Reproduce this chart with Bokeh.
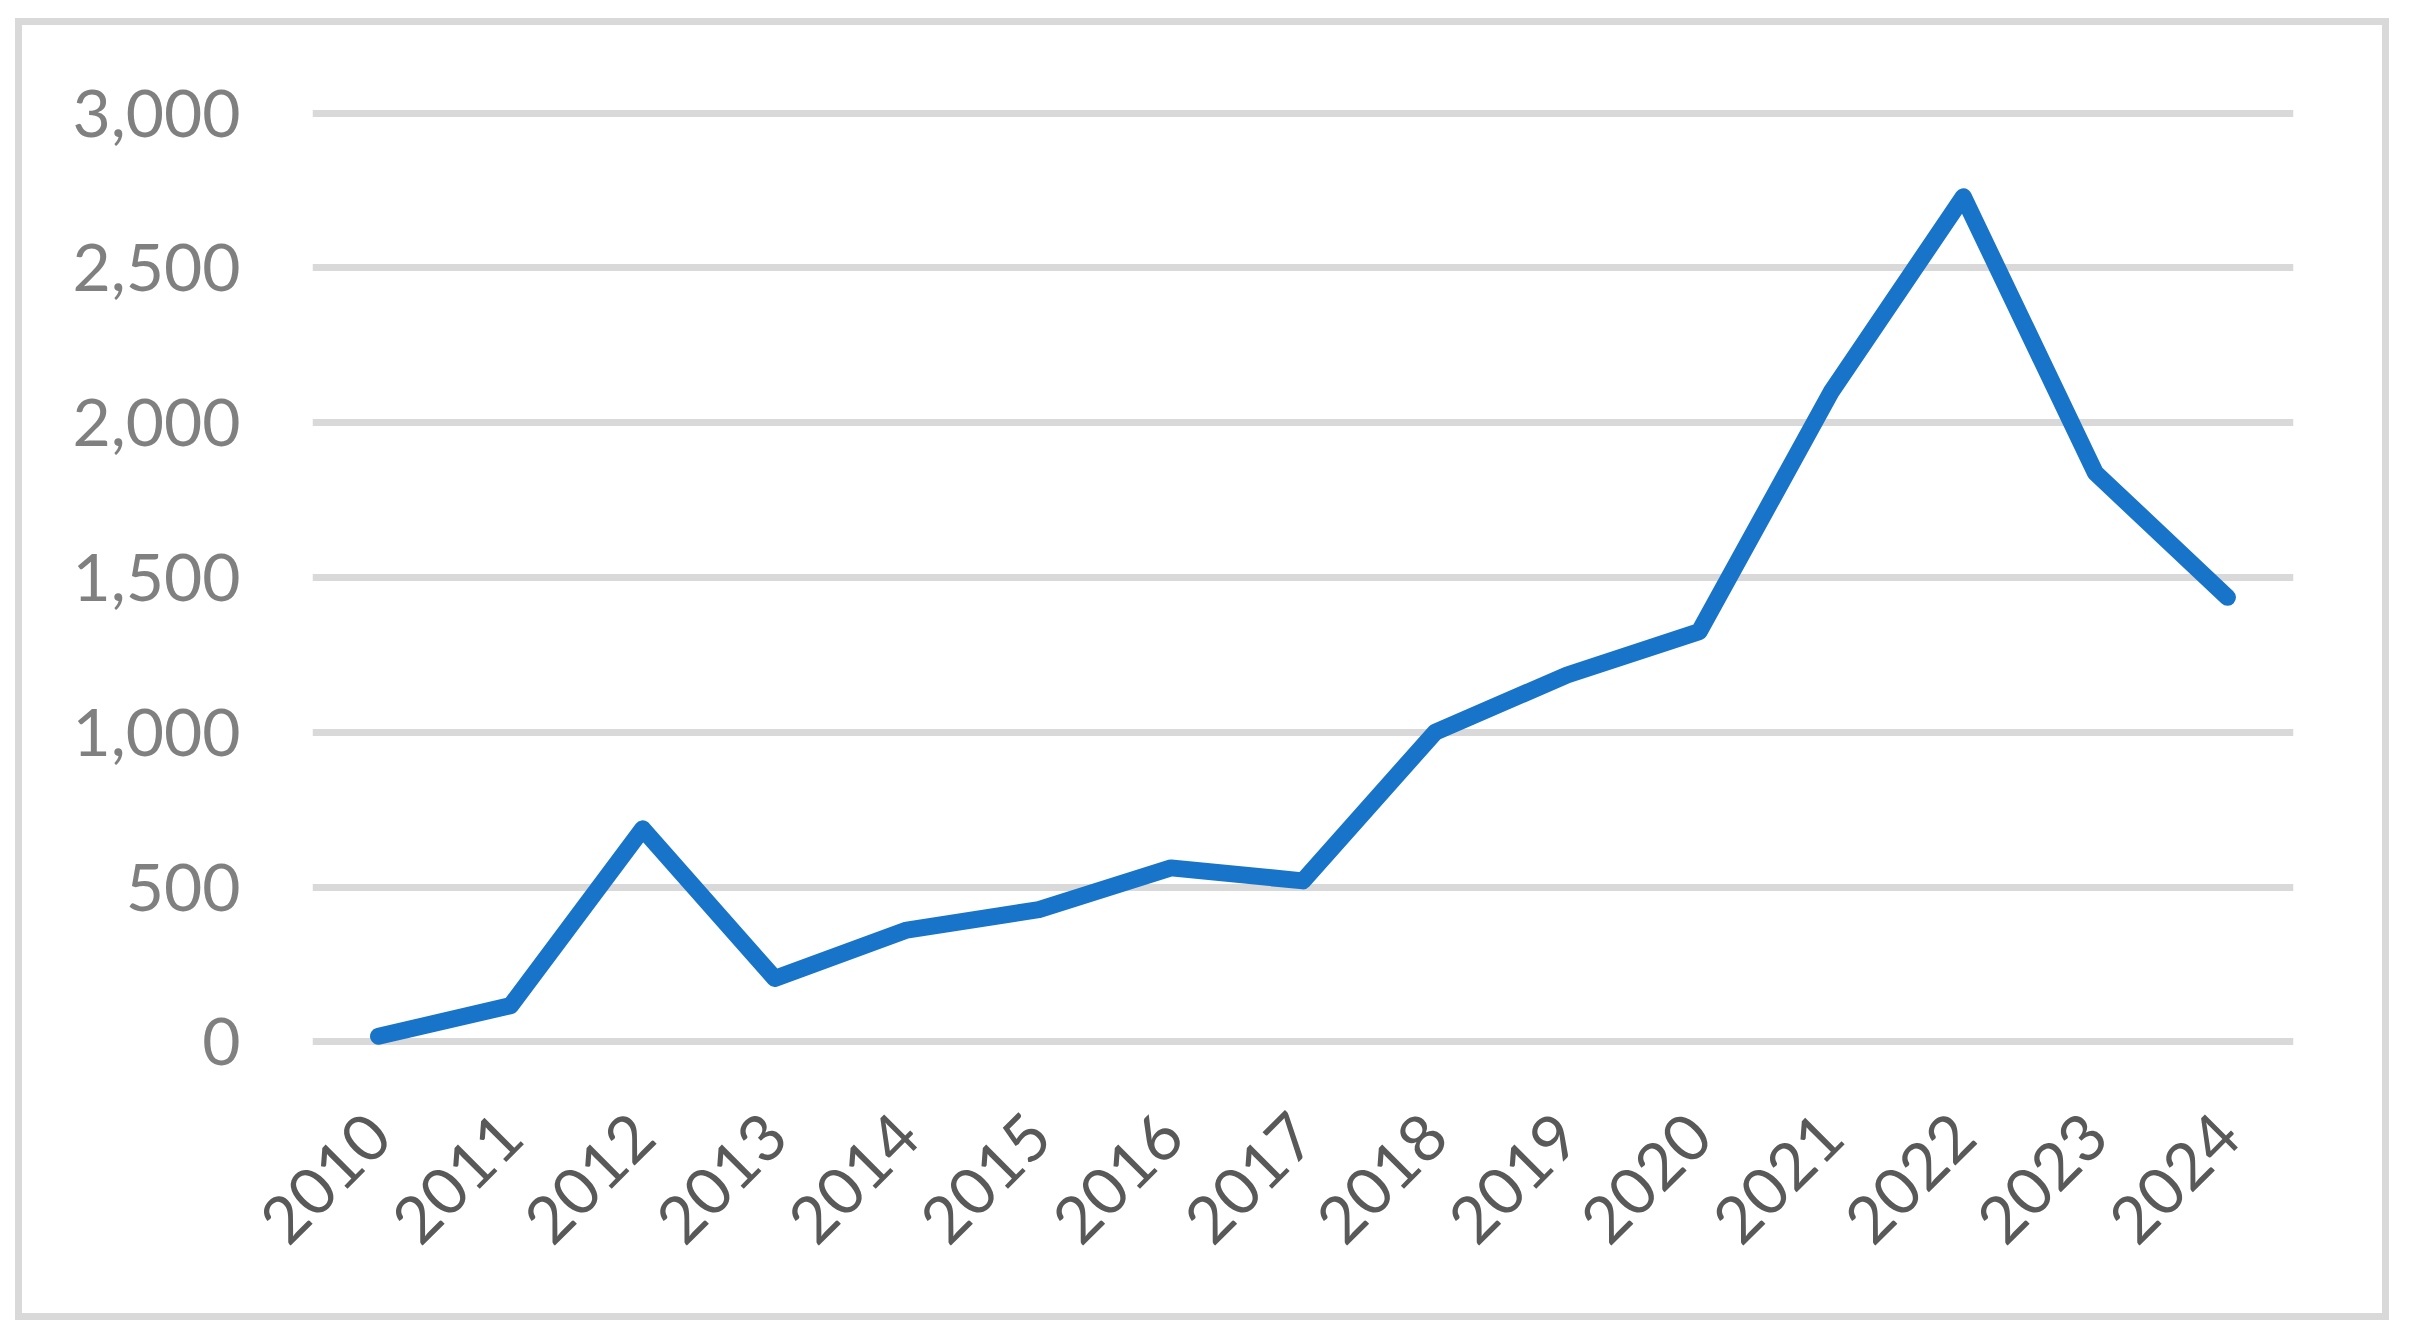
import math
from bokeh.plotting import figure
from bokeh.models import FixedTicker, NumeralTickFormatter, Range1d, FactorRange
from bokeh.embed import file_html
from bokeh.resources import INLINE

years = ["2010", "2011", "2012", "2013", "2014", "2015", "2016", "2017",
         "2018", "2019", "2020", "2021", "2022", "2023", "2024"]
values = [18, 117, 688, 205, 361, 427, 562, 520, 1000, 1185, 1325, 2100, 2730, 1838, 1436]
y_ticks = [0, 500, 1000, 1500, 2000, 2500, 3000]

W, H = 2389, 1320
p = figure(
    width=W, height=H,
    x_range=FactorRange(*years),
    y_range=Range1d(-15, 3015),
    output_backend="svg", toolbar_location=None,
    min_border_left=297, min_border_right=111,
    min_border_top=90, min_border_bottom=292,
)
# white offset + light grey chart-area border (drawn by the host element,
# visible through the transparent canvas)
p.styles = {
    "border-left": "15px solid white",
    "border-top": "18px solid white",
    "background-color": "white",
    "box-shadow": "inset 0 0 0 7px #D9D9D9",
}
p.outline_line_color = None
p.background_fill_color = None
p.border_fill_color = None

p.line(x=years, y=values, line_width=17, line_color="#1874C8",
       line_join="round", line_cap="round")

p.xgrid.grid_line_color = None
p.ygrid.grid_line_color = "#D9D9D9"
p.ygrid.grid_line_width = 7
p.ygrid.ticker = FixedTicker(ticks=y_ticks)

p.yaxis.ticker = FixedTicker(ticks=y_ticks)
p.yaxis.formatter = NumeralTickFormatter(format="0,0")
p.yaxis.axis_line_color = None
p.yaxis.major_tick_line_color = None
p.yaxis.minor_tick_line_color = None
p.yaxis.major_tick_out = 0
p.yaxis.major_label_standoff = 72
p.yaxis.major_label_text_font = "Lato"
p.yaxis.major_label_text_font_size = "66px"
p.yaxis.major_label_text_color = "#808080"

p.xaxis.axis_line_color = None
p.xaxis.major_tick_line_color = None
p.xaxis.minor_tick_line_color = None
p.xaxis.major_tick_out = 0
p.xaxis.major_label_standoff = 78
p.xaxis.major_label_orientation = math.pi / 4
p.xaxis.major_label_text_font = "Lato"
p.xaxis.major_label_text_font_size = "65px"
p.xaxis.major_label_text_color = "#595959"

open("out.html", "w").write(file_html(p, INLINE))
